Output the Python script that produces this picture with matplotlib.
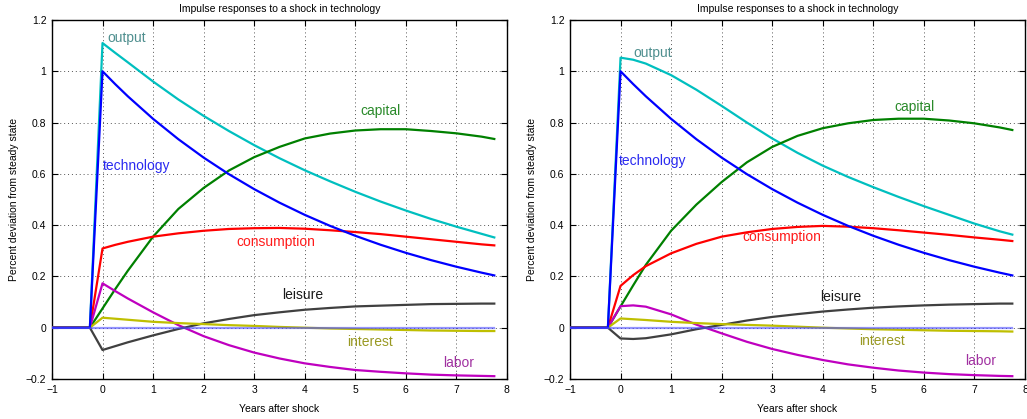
import matplotlib
matplotlib.use("Agg")
import matplotlib.pyplot as plt

plt.rcParams['font.family'] = ['Liberation Sans', 'DejaVu Sans']

# years after shock (quarterly near the shock, half-yearly afterwards)
years = [-1, -0.25, 0, 0.25, 0.5, 1, 1.5, 2, 2.5, 3, 3.5, 4, 4.5, 5, 5.5, 6, 6.5, 7, 7.5, 7.75]

technology = [0, 0, 1.0, 0.950, 0.9025, 0.8145, 0.7351, 0.6634, 0.5987, 0.5404, 0.4877,
              0.4401, 0.3972, 0.3585, 0.3235, 0.2920, 0.2635, 0.2378, 0.2146, 0.2039]

# left panel
output_a = [0, 0, 1.11, 1.072, 1.035, 0.96, 0.89, 0.826, 0.767, 0.712, 0.661,
            0.614, 0.571, 0.53, 0.492, 0.457, 0.424, 0.394, 0.366, 0.352]
capital_a = [0, 0, 0.075, 0.15, 0.222, 0.355, 0.463, 0.545, 0.613, 0.665, 0.705,
             0.738, 0.757, 0.769, 0.774, 0.774, 0.767, 0.758, 0.745, 0.736]
consumption_a = [0, 0, 0.309, 0.323, 0.335, 0.355, 0.368, 0.378, 0.385, 0.388, 0.389,
                 0.386, 0.38, 0.373, 0.365, 0.355, 0.345, 0.335, 0.325, 0.321]
labor_a = [0, 0, 0.173, 0.143, 0.114, 0.06, 0.01, -0.033, -0.068, -0.097, -0.12,
           -0.139, -0.153, -0.165, -0.172, -0.178, -0.183, -0.186, -0.188, -0.189]
leisure_a = [0, 0, -0.087, -0.072, -0.057, -0.03, -0.005, 0.017, 0.034, 0.049, 0.06,
             0.07, 0.077, 0.083, 0.086, 0.089, 0.092, 0.093, 0.094, 0.094]
interest_a = [0, 0, 0.039, 0.035, 0.031, 0.023, 0.018, 0.014, 0.01, 0.007, 0.003,
              0.0, -0.003, -0.005, -0.007, -0.009, -0.011, -0.012, -0.013, -0.013]

# right panel
output_b = [0, 0, 1.053, 1.045, 1.03, 0.985, 0.928, 0.865, 0.8, 0.738, 0.682,
            0.632, 0.588, 0.548, 0.51, 0.474, 0.44, 0.406, 0.376, 0.363]
capital_b = [0, 0, 0.083, 0.165, 0.245, 0.378, 0.48, 0.568, 0.645, 0.705, 0.748,
             0.778, 0.797, 0.81, 0.815, 0.815, 0.808, 0.797, 0.781, 0.771]
consumption_b = [0, 0, 0.163, 0.205, 0.24, 0.29, 0.327, 0.355, 0.372, 0.385, 0.393,
                 0.397, 0.394, 0.388, 0.38, 0.371, 0.362, 0.352, 0.343, 0.338]
labor_b = [0, 0, 0.084, 0.087, 0.082, 0.052, 0.012, -0.022, -0.055, -0.083, -0.106,
           -0.126, -0.143, -0.156, -0.167, -0.175, -0.181, -0.185, -0.188, -0.189]
leisure_b = [0, 0, -0.042, -0.044, -0.041, -0.026, -0.006, 0.011, 0.028, 0.042, 0.053,
             0.063, 0.071, 0.078, 0.083, 0.087, 0.09, 0.092, 0.094, 0.094]
interest_b = [0, 0, 0.036, 0.033, 0.03, 0.023, 0.018, 0.014, 0.011, 0.008, 0.004,
              0.0, -0.003, -0.006, -0.008, -0.01, -0.012, -0.013, -0.014, -0.015]

yticks = [-0.2, 0, 0.2, 0.4, 0.6, 0.8, 1, 1.2]
ytick_labels = ["\u22120.2", "0", "0.2", "0.4", "0.6", "0.8", "1", "1.2"]
xticks = [-1, 0, 1, 2, 3, 4, 5, 6, 7, 8]
xtick_labels = ["\u22121", "0", "1", "2", "3", "4", "5", "6", "7", "8"]

# label text and placement (x, y) in data units
labels_a = {
    "output": (0.1, 1.128, "left"),
    "technology": (0.0, 0.632, "left"),
    "capital": (5.5, 0.846, "center"),
    "consumption": (3.42, 0.334, "center"),
    "leisure": (3.95, 0.126, "center"),
    "interest": (5.3, -0.056, "center"),
    "labor": (7.05, -0.137, "center"),
}
labels_b = {
    "output": (0.64, 1.071, "center"),
    "technology": (-0.04, 0.649, "left"),
    "capital": (5.82, 0.861, "center"),
    "consumption": (3.2, 0.352, "center"),
    "leisure": (4.35, 0.121, "center"),
    "interest": (5.17, -0.052, "center"),
    "labor": (7.13, -0.130, "center"),
}

line_colors = {
    "output": (0.0, 0.75, 0.75),
    "capital": (0.0, 0.5, 0.0),
    "consumption": (1.0, 0.0, 0.0),
    "labor": (0.75, 0.0, 0.75),
    "leisure": (0.25, 0.25, 0.25),
    "interest": (0.75, 0.75, 0.0),
    "technology": (0.0, 0.0, 1.0),
}
text_colors = {
    "output": "#4f8f8f",
    "capital": "#2a8a2a",
    "consumption": "#ff1a1a",
    "labor": "#a030a0",
    "leisure": "#1a1a1a",
    "interest": "#999922",
    "technology": "#2a2af0",
}

fig = plt.figure(figsize=(10.27, 4.19), dpi=100)
ax_a = fig.add_axes([0.0506, 0.0955, 0.443, 0.8568])
ax_b = fig.add_axes([0.555, 0.0955, 0.443, 0.8568])

panels = [
    (ax_a, output_a, capital_a, consumption_a, labor_a, leisure_a, interest_a, labels_a),
    (ax_b, output_b, capital_b, consumption_b, labor_b, leisure_b, interest_b, labels_b),
]

for ax, out, cap, cons, lab, leis, inter, labels in panels:
    series = {
        "output": out,
        "capital": cap,
        "consumption": cons,
        "labor": lab,
        "leisure": leis,
        "interest": inter,
        "technology": technology,
    }
    for name, vals in series.items():
        ax.plot(years, vals, color=line_colors[name], linewidth=1.6, zorder=3)

    # steady state line
    ax.plot(years, [0] * len(years), color=(0.3, 0.3, 1.0), alpha=0.6,
            linewidth=1.6, zorder=4)

    for name, (tx, ty, ha) in labels.items():
        ax.text(tx, ty, name, color=text_colors[name], fontsize=10,
                ha=ha, va="center", zorder=5)

    ax.set_xlim(-1, 8)
    ax.set_ylim(-0.2, 1.2)
    ax.set_xticks(xticks)
    ax.set_xticklabels(xtick_labels)
    ax.set_yticks(yticks)
    ax.set_yticklabels(ytick_labels)
    ax.tick_params(direction="in", length=4, width=0.8, labelsize=7.5,
                   top=True, right=True, pad=4)
    ax.grid(True, linestyle=(0, (1, 3)), color="#555555", linewidth=0.7)
    for sp in ax.spines.values():
        sp.set_linewidth(1.0)

    ax.set_title("Impulse responses to a shock in technology", fontsize=7.5, pad=6)
    ax.set_xlabel("Years after shock", fontsize=7.5, labelpad=7)
    ax.set_ylabel("Percent deviation from steady state", fontsize=7.5, labelpad=5)

fig.savefig("out.png", dpi=100)
